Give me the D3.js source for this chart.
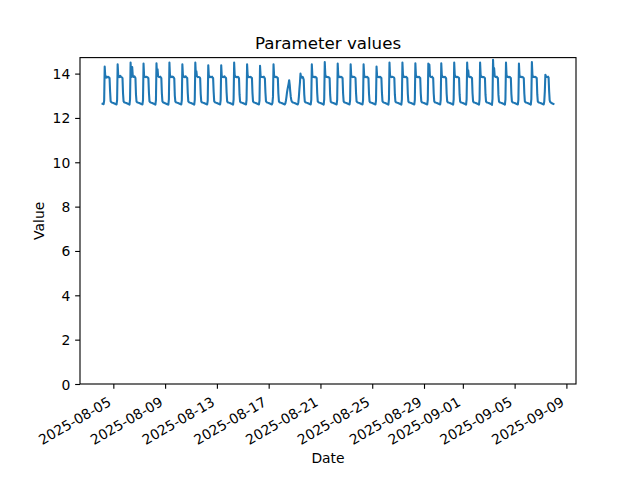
<!DOCTYPE html>
<html><head><meta charset="utf-8">
<script src="https://cdn.jsdelivr.net/npm/d3@7"></script>
<style>body{margin:0;background:#fff} svg text{font-family:"DejaVu Sans",sans-serif;fill:#000}</style>
</head><body><svg id="c" width="640" height="480"></svg>
<script>
// ---- data (hourly readings, first row starts 2025-08-04 04:00 UTC) ----
const startTime = "2025-08-04T04:00:00Z";
const dayRows = [
 [12.64,12.63,12.62,12.78,14.32,13.90,13.84,13.82,13.86,13.84,13.83,13.85,13.82,13.80,13.20,12.76,12.72,12.70,12.69,12.68],
 [12.67,12.66,12.65,12.64,12.63,12.62,12.61,12.82,14.42,13.95,13.86,13.84,13.88,13.90,13.85,13.84,13.83,13.80,13.10,12.75,12.71,12.70,12.69,12.68],
 [12.67,12.66,12.65,12.64,12.63,12.62,12.60,12.85,14.50,13.90,13.85,14.30,13.92,13.86,13.85,13.88,13.84,13.80,13.05,12.74,12.71,12.70,12.69,12.68],
 [12.67,12.66,12.65,12.64,12.63,12.62,12.61,12.80,14.45,13.92,13.86,13.85,13.84,13.86,13.85,13.84,13.82,13.79,13.15,12.76,12.72,12.70,12.69,12.68],
 [12.67,12.66,12.65,12.64,12.63,12.62,12.60,12.80,14.47,13.96,14.20,13.88,13.86,13.85,13.84,13.86,13.83,13.80,13.10,12.75,12.71,12.70,12.68,12.67],
 [12.66,12.65,12.64,12.63,12.62,12.61,12.60,12.84,14.50,13.93,13.86,13.84,13.85,13.87,13.84,13.85,13.82,13.78,13.00,12.74,12.71,12.70,12.69,12.68],
 [12.67,12.66,12.65,12.64,12.63,12.62,12.61,12.80,14.42,13.95,13.88,13.85,13.84,13.86,13.88,13.84,13.82,13.80,13.12,12.75,12.72,12.70,12.69,12.68],
 [12.67,12.66,12.65,12.64,12.63,12.62,12.60,12.82,14.50,13.98,14.10,13.88,13.86,13.84,13.85,13.84,13.83,13.79,13.08,12.74,12.71,12.70,12.69,12.68],
 [12.67,12.66,12.65,12.64,12.63,12.62,12.61,12.78,14.38,13.92,13.86,13.84,13.86,13.85,13.84,13.86,13.82,13.80,13.18,12.76,12.72,12.70,12.69,12.68],
 [12.67,12.66,12.65,12.64,12.63,12.62,12.61,12.80,14.38,13.90,13.85,13.86,13.84,13.85,13.88,13.84,13.82,13.80,13.15,12.75,12.71,12.70,12.69,12.68],
 [12.67,12.66,12.65,12.64,12.63,12.62,12.60,12.84,14.50,13.95,13.87,13.85,13.84,13.86,13.84,13.85,13.83,13.79,13.05,12.74,12.71,12.70,12.69,12.68],
 [12.67,12.66,12.65,12.64,12.63,12.62,12.61,12.82,14.42,13.94,13.86,13.84,13.85,13.84,13.86,13.84,13.82,13.80,13.12,12.75,12.72,12.70,12.69,12.68],
 [12.67,12.66,12.65,12.64,12.63,12.62,12.61,12.78,14.35,13.90,13.86,13.85,13.84,13.85,13.84,13.86,13.82,13.78,13.15,12.76,12.72,12.70,12.69,12.68],
 [12.67,12.66,12.65,12.64,12.63,12.62,12.61,12.68,12.95,14.42,13.95,13.86,13.85,13.84,13.86,13.84,13.82,13.80,13.10,12.75,12.71,12.70,12.69,12.68],
 [12.67,12.66,12.65,12.64,12.63,12.62,12.61,12.66,12.78,12.95,13.15,13.30,13.42,13.55,13.70,13.50,13.20,12.95,12.80,12.74,12.71,12.70,12.69,12.68],
 [12.67,12.66,12.65,12.64,12.63,12.62,12.61,12.70,12.95,13.30,13.60,14.00,13.86,13.84,13.82,13.85,13.80,13.72,13.05,12.74,12.71,12.70,12.69,12.68],
 [12.67,12.66,12.65,12.64,12.63,12.62,12.61,12.82,14.42,13.92,13.86,13.85,13.84,13.86,13.84,13.85,13.82,13.80,13.12,12.75,12.72,12.70,12.69,12.68],
 [12.67,12.66,12.65,12.64,12.63,12.62,12.60,12.85,14.52,13.96,13.87,13.85,13.86,13.84,13.85,13.84,13.82,13.79,13.05,12.74,12.71,12.70,12.69,12.68],
 [12.67,12.66,12.65,12.64,12.63,12.62,12.61,12.82,14.45,13.94,13.86,13.84,13.85,13.86,13.84,13.85,13.82,13.80,13.10,12.75,12.71,12.70,12.69,12.68],
 [12.67,12.66,12.65,12.64,12.63,12.62,12.61,12.80,14.42,13.92,13.88,13.85,13.84,13.85,13.86,13.84,13.83,13.80,13.12,12.75,12.72,12.70,12.69,12.68],
 [12.67,12.66,12.65,12.64,12.63,12.62,12.61,12.80,14.42,13.95,13.86,13.84,13.85,13.84,13.86,13.85,13.82,13.79,13.10,12.75,12.71,12.70,12.69,12.68],
 [12.67,12.66,12.65,12.64,12.63,12.62,12.61,12.78,14.32,13.90,13.86,13.85,13.84,13.86,13.84,13.85,13.82,13.80,13.15,12.76,12.72,12.70,12.69,12.68],
 [12.67,12.66,12.65,12.64,12.63,12.62,12.60,12.84,14.50,13.95,13.87,13.85,13.84,13.86,13.85,13.84,13.83,13.79,13.05,12.74,12.71,12.70,12.69,12.68],
 [12.67,12.66,12.65,12.64,12.63,12.62,12.60,12.84,14.50,13.96,13.86,13.85,13.86,13.84,13.85,13.86,13.82,13.80,13.08,12.74,12.71,12.70,12.69,12.68],
 [12.67,12.66,12.65,12.64,12.63,12.62,12.61,12.82,14.47,13.94,13.86,13.85,13.84,13.86,13.84,13.85,13.82,13.80,13.10,12.75,12.71,12.70,12.69,12.68],
 [12.67,12.66,12.65,12.64,12.63,12.62,12.61,12.82,14.45,14.42,14.40,13.90,13.86,13.85,13.84,13.86,13.82,13.80,13.10,12.75,12.71,12.70,12.69,12.68],
 [12.67,12.66,12.65,12.64,12.63,12.62,12.61,12.82,14.47,13.95,13.86,13.85,13.84,13.86,13.84,13.85,13.82,13.79,13.08,12.75,12.71,12.70,12.69,12.68],
 [12.67,12.66,12.65,12.64,12.63,12.62,12.60,12.84,14.50,13.96,13.88,13.85,13.84,13.86,13.85,13.84,13.82,13.80,13.06,12.74,12.71,12.70,12.69,12.68],
 [12.67,12.66,12.65,12.64,12.63,12.62,12.60,12.84,14.50,13.94,14.15,13.88,13.85,13.84,13.86,13.84,13.82,13.80,13.10,12.75,12.71,12.70,12.69,12.68],
 [12.67,12.66,12.65,12.64,12.63,12.62,12.60,12.84,14.50,13.95,13.86,13.85,13.86,13.84,13.85,13.84,13.82,13.79,13.05,12.74,12.71,12.70,12.69,12.68],
 [12.67,12.66,12.65,12.64,12.63,12.62,12.59,12.86,14.62,13.98,14.25,13.90,13.86,13.85,13.84,13.86,13.82,13.80,13.04,12.74,12.71,12.70,12.69,12.68],
 [12.67,12.66,12.65,12.64,12.63,12.62,12.60,12.84,14.50,13.95,13.87,13.85,13.84,13.86,13.84,13.85,13.82,13.80,13.08,12.75,12.71,12.70,12.69,12.68],
 [12.67,12.66,12.65,12.64,12.63,12.62,12.61,12.82,14.45,13.94,13.86,13.85,13.84,13.86,13.85,13.84,13.82,13.79,13.10,12.75,12.71,12.70,12.69,12.68],
 [12.67,12.66,12.65,12.64,12.63,12.62,12.60,12.85,14.52,13.96,13.86,13.85,13.84,13.85,13.86,13.84,13.82,13.80,13.06,12.74,12.71,12.70,12.69,12.68],
 [12.67,12.66,12.65,12.64,12.63,12.62,12.61,12.75,13.20,13.95,13.88,13.86,13.85,13.84,13.86,13.82,13.20,12.80,12.72,12.70,12.68,12.66,12.65,12.64]
];
const finalValues = [12.63];
const xTickLabels = ["2025-08-05","2025-08-09","2025-08-13","2025-08-17","2025-08-21","2025-08-25","2025-08-29","2025-09-01","2025-09-05","2025-09-09"];
const yTickValues = [0,2,4,6,8,10,12,14];
const titleText = "Parameter values";
const xLabelText = "Date";
const yLabelText = "Value";

// ---- build ----
const values = dayRows.flat().concat(finalValues);
const t0 = new Date(startTime).getTime();
const data = values.map((v,i)=>({t:new Date(t0 + i*3600e3), v}));

const L=80, R=576, T=57.6, B=384;
const svg = d3.select("#c");
svg.append("rect").attr("width",640).attr("height",480).attr("fill","#fff");

const tExt = d3.extent(data,d=>d.t.getTime());
const tPad = (tExt[1]-tExt[0])*0.05;
const x = d3.scaleUtc().domain([new Date(tExt[0]-tPad), new Date(tExt[1]+tPad)]).range([L,R]);
const vExt = d3.extent(data,d=>d.v);
const y = d3.scaleLinear().domain([0, vExt[1] + 0.05*(vExt[1]-vExt[0])]).range([B,T]);

const tickLen = 4.86, sw = 1.11, fs = 13.9;

// line
svg.append("path").datum(data)
  .attr("fill","none").attr("stroke","#1f77b4").attr("stroke-width",2.08)
  .attr("stroke-linejoin","round").attr("stroke-linecap","square")
  .attr("d", d3.line().x(d=>x(d.t)).y(d=>y(d.v)));

// x axis
const parseDay = d3.utcParse("%Y-%m-%d");
const xAxis = d3.axisBottom(x).tickValues(xTickLabels.map(parseDay))
  .tickFormat(d3.utcFormat("%Y-%m-%d")).tickSize(tickLen).tickPadding(4.86);
const gx = svg.append("g").attr("transform",`translate(0,${B})`).call(xAxis);
gx.select(".domain").remove();
gx.selectAll(".tick line").attr("stroke","#000").attr("stroke-width",sw);
gx.selectAll(".tick text").attr("font-size",fs).attr("font-family","DejaVu Sans")
  .attr("y",0).attr("dy",null).attr("text-anchor","end")
  .attr("transform","translate(-1.7,20.8) rotate(-30)");

// y axis
const yAxis = d3.axisLeft(y).tickValues(yTickValues).tickFormat(d3.format("d"))
  .tickSize(tickLen).tickPadding(4.86);
const gy = svg.append("g").attr("transform",`translate(${L},0)`).call(yAxis);
gy.select(".domain").remove();
gy.selectAll(".tick line").attr("stroke","#000").attr("stroke-width",sw);
gy.selectAll(".tick text").attr("font-size",fs).attr("font-family","DejaVu Sans").attr("dy","0.36em");

// spines
svg.append("rect").attr("x",L).attr("y",T).attr("width",R-L).attr("height",B-T)
  .attr("fill","none").attr("stroke","#000").attr("stroke-width",sw);

// labels
svg.append("text").attr("x",(L+R)/2).attr("y",49.3).attr("text-anchor","middle")
  .attr("font-size",16.67).text(titleText);
svg.append("text").attr("x",(L+R)/2).attr("y",462.5).attr("text-anchor","middle")
  .attr("font-size",fs).text(xLabelText);
svg.append("text").attr("transform",`translate(43.5,${(T+B)/2}) rotate(-90)`)
  .attr("text-anchor","middle").attr("font-size",fs).text(yLabelText);
</script></body></html>
